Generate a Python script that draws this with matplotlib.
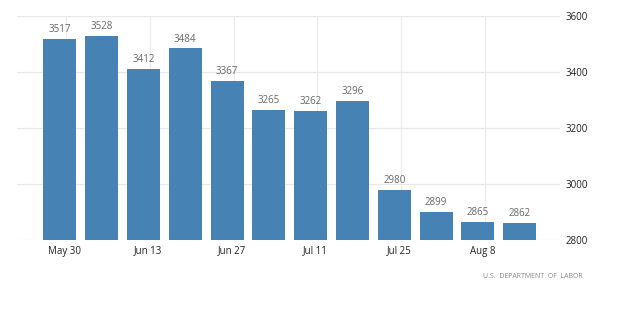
import matplotlib
matplotlib.use("Agg")
import matplotlib.pyplot as plt
import numpy as np

values = [3517, 3528, 3412, 3484, 3367, 3265, 3262, 3296, 2980, 2899, 2865, 2862]
tick_labels = ["May 30", "Jun 13", "Jun 27", "Jul 11", "Jul 25", "Aug 8"]
y_ticks = [2800, 3000, 3200, 3400, 3600]
source = "U.S.  DEPARTMENT  OF  LABOR"

plt.rcParams['font.family'] = ['Open Sans', 'DejaVu Sans']

fig = plt.figure(figsize=(6.2, 3.17), dpi=100)
ax = fig.add_axes([0.027, 0.243, 0.876, 0.7065])

x = np.arange(len(values))
ax.bar(x, [v - 2800 for v in values], bottom=2800, width=0.79, color="#4682b4", zorder=3)
for xi, v in zip(x, values):
    ax.text(xi, v + 14, str(v), ha="center", va="bottom", fontsize=7, color="#666666", zorder=4)

ax.set_xlim(-1.03, 11.96)
ax.set_ylim(2800, 3600)

# grid
for yv in y_ticks:
    ax.axhline(yv, color="#e8e8e8", lw=0.9, zorder=1)
grid_x = x[::2] + 0.16
for gx in grid_x:
    ax.axvline(gx, color="#ececec", lw=0.9, zorder=1)

ax.set_xticks(x[::2] + 0.12)
ax.set_xticklabels(tick_labels, fontsize=7, color="#222222")
ax.yaxis.tick_right()
ax.set_yticks(y_ticks)
ax.set_yticklabels([str(t) for t in y_ticks], fontsize=7, color="#222222")
ax.tick_params(axis="both", length=0)
ax.tick_params(axis="x", pad=4)
ax.tick_params(axis="y", pad=4)
for s in ax.spines.values():
    s.set_visible(False)

fig.text(0.94, 0.127, source, ha="right", va="center", fontsize=5, color="#888888")

fig.savefig("out.png", dpi=100, facecolor="white")
